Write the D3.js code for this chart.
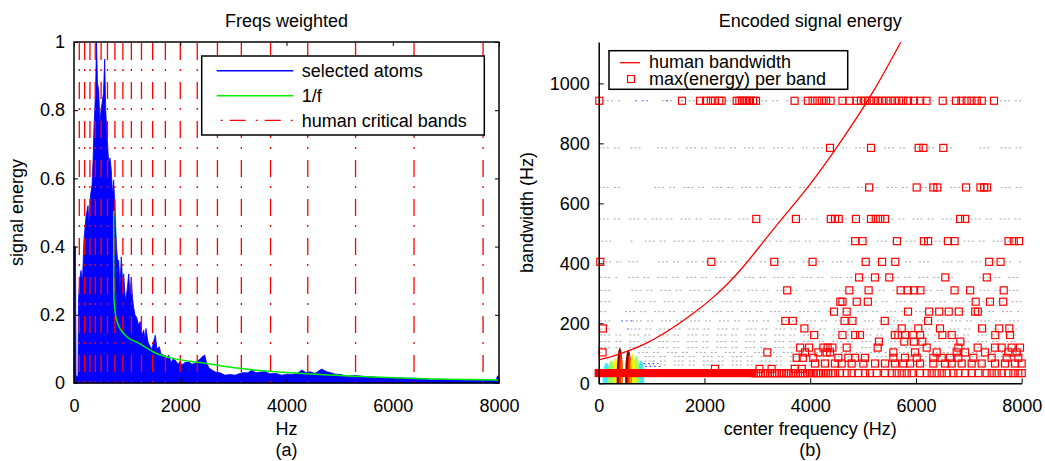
<!DOCTYPE html>
<html>
<head>
<meta charset="UTF-8">
<title>Freqs weighted / Encoded signal energy</title>
<style>
  body { margin: 0; background: #fff; }
  svg text { font-family: "Liberation Sans", Arial, Helvetica, sans-serif; fill: #000; }
</style>
</head>
<body>
<script src="https://cdnjs.cloudflare.com/ajax/libs/d3/7.8.5/d3.min.js"></script>
<svg id="fig" width="1045" height="461"></svg>
<script>
// ---------- panel (a) data ----------
var xTicksA = [0, 2000, 4000, 6000, 8000];
var yTicksA = [0, 0.2, 0.4, 0.6, 0.8, 1];
var yLabelsA = ["0", "0.2", "0.4", "0.6", "0.8", "1"];

// critical band edges (Hz)
var critBands = [100, 200, 300, 400, 510, 630, 770, 920, 1080, 1270, 1480, 1720,
                 2000, 2320, 2700, 3150, 3700, 4400, 5300, 6400, 7700];

// envelope of the selected atoms spectrum, [Hz, energy]
var spectrum = [[0,0.40],[28,0.40],[38,0.02],[75,0.02],[85,0.25],[113,0.31],[132,0.33],[160,0.30],
  [188,0.42],[226,0.49],[264,0.52],[282,0.47],[311,0.55],[339,0.58],[358,0.65],[376,0.75],[405,0.85],
  [424,1.0],[442,0.88],[465,0.86],[489,0.76],[508,0.80],[527,0.82],[555,0.85],[578,0.95],[597,0.80],
  [621,0.73],[653,0.645],[678,0.66],[702,0.625],[725,0.55],[747,0.595],[777,0.487],[800,0.40],
  [819,0.36],[841,0.36],[866,0.28],[890,0.37],[913,0.30],[936,0.32],[966,0.243],[998,0.27],
  [1030,0.32],[1054,0.26],[1079,0.31],[1101,0.25],[1124,0.22],[1148,0.20],[1186,0.19],[1214,0.17],
  [1248,0.18],[1280,0.14],[1312,0.155],[1336,0.13],[1355,0.16],[1393,0.12],[1436,0.106],[1468,0.10],
  [1497,0.12],[1530,0.14],[1562,0.10],[1606,0.106],[1638,0.085],[1689,0.082],[1732,0.07],[1783,0.082],
  [1826,0.06],[1864,0.07],[1907,0.067],[1958,0.055],[1995,0.062],[2033,0.053],[2089,0.06],[2159,0.062],
  [2221,0.055],[2283,0.058],[2340,0.067],[2372,0.07],[2409,0.076],[2460,0.082],[2498,0.058],[2541,0.044],
  [2598,0.038],[2660,0.032],[2748,0.03],[2842,0.023],[2936,0.025],[3031,0.023],[3162,0.03],[3275,0.03],
  [3345,0.038],[3426,0.03],[3501,0.032],[3595,0.033],[3689,0.027],[3802,0.028],[3910,0.023],[4009,0.026],
  [4104,0.025],[4198,0.028],[4292,0.038],[4367,0.03],[4442,0.033],[4536,0.028],[4663,0.041],[4757,0.033],
  [4838,0.03],[4913,0.026],[5007,0.025],[5158,0.02],[5289,0.022],[5478,0.019],[5628,0.018],[5792,0.015],
  [5948,0.016],[6099,0.015],[6268,0.014],[6419,0.014],[6569,0.012],[6733,0.009],[6889,0.011],[7046,0.009],
  [7209,0.01],[7360,0.007],[7511,0.008],[7675,0.007],[7831,0.008],[7944,0.007],[7972,0.021],[8000,0.015]];

// the 1/f reference curve, [Hz, energy]
var invF = [[747,0.505],[748,0.30],[752,0.25],[778,0.204],[820,0.175],[904,0.151],[1000,0.135],
  [1218,0.117],[1530,0.088],[1845,0.073],[2472,0.058],[2786,0.050],[3281,0.040],[4536,0.026],
  [5792,0.017],[7046,0.011],[8000,0.009]];

// ---------- panel (b) data ----------
var xTicksB = [0, 2000, 4000, 6000, 8000];
var yTicksB = [0, 200, 400, 600, 800, 1000];

// human critical bandwidth, [center Hz, bandwidth Hz]
var humanBw = [[0,78],[308,92],[560,108],[876,130],[1191,161],[1506,197],[1821,237],[2137,281],
  [2452,333],[2767,394],[3051,458],[3397,535],[3964,652],[4501,785],[5163,958],[5711,1137]];

// dictionary atoms (grey dots): bandwidth of each row and the frequency spans it covers
var atomRowBw = [942, 785, 653, 548, 474, 405, 353, 310, 272, 239, 208, 181, 161, 139, 119, 103, 89, 74, 61];
var atomRuns = [
  [[80,400],[1200,1400],[1700,1900],[2330,2580],[3000,3650],[3750,8000]],
  [[0,420],[600,850],[1100,3950],[4050,4700],[4850,6700],[7200,7400],[7600,8000]],
  [[0,400],[1050,5350],[5450,6000],[6100,7450],[7600,8000]],
  [[0,400],[580,900],[1000,8000]],
  [[50,310],[600,640],[870,8000]],
  [[50,430],[560,820],[1120,6300],[6500,7300],[7400,8000]],
  [[30,370],[560,6700],[7200,8000]],
  [[30,310],[620,8000]],
  [[30,290],[680,8000]],
  [[30,180],[500,8000]],
  [[30,240],[630,8000]],
  [[30,240],[600,8000]],
  [[30,8000]],
  [[30,8000]],
  [[30,8000]],
  [[30,60],[740,8000]],
  [[870,8000]],
  [[870,8000]],
  [[870,8000]]
];
// low-energy atoms drawn in blue
var blueRowBw = [942, 208, 181, 66, 56, 44];
var blueRuns = [
  [[0,60],[690,760],[820,930],[1270,1300],[1560,1590]],
  [[430,630]],
  [[540,600]],
  [[850,1150]],
  [[880,1200]],
  [[900,1250]]
];

// high-energy atoms around 200-900 Hz: [center Hz, half width Hz, top bandwidth, colour]
var blobs = [
  [150, 75, 68, "#40e8ff"], [800, 60, 75, "#40e8ff"],
  [240, 70, 76, "#a0ff60"], [710, 65, 92, "#a0ff60"],
  [320, 45, 85, "#ffee00"], [640, 50, 100, "#ffee00"],
  [400, 60, 118, "#900000"], [560, 60, 112, "#900000"],
  [420, 35, 100, "#ff3000"], [580, 35, 95, "#ff3000"],
  [440, 15, 80, "#ffa000"], [600, 15, 80, "#ffa000"]
];

// max(energy) per band: bandwidth of each row and the center frequencies of the squares
var peakRowBw = [942, 785, 653, 548, 474, 405, 353, 310, 272, 239, 208, 183, 161, 139, 119, 103, 85, 66, 48, 34];
var peakFreqs = [
  [12,1576,1916,2030,2120,2200,2281,2326,2610,2660,2710,2760,2810,2860,2920,2975,3705,3955,4045,4135,4220,
   4300,4385,4610,4740,4880,4960,5040,5120,5200,5280,5360,5440,5520,5600,5680,5760,5850,5960,6080,6200,
   6506,6757,6860,6960,7050,7150,7244,7476],
  [4375,5150,6052,6140,6518],
  [5115,6014,6329,6404,6947,7220,7290,7345],
  [2980,3730,4390,4470,4540,4865,5150,5240,5325,5415,6835,6930],
  [4850,4990,5640,6150,6230,6605,6730,7750,7850,7950],
  [30,2130,3320,4045,5050,5360,5610,7385,7600],
  [4925,5225,5495,6555,7340],
  [3565,4740,5105,5710,5845,5965,6085,6730,7025,7660],
  [4570,4610,4880,5090,7130,7400,7650],
  [4450,4690,5850,6250,6440,6620,6810,7120,7170],
  [3530,3670,4650,4800,5410,6230],
  [80,3890,5730,6045,6455,7250,7575,7766],
  [4075,4610,4850,4942,5600,5667,5793,5951,6077,6500,6676,7500,7779],
  [5300,5780,5960,6120,6840],
  [3810,3980,4250,4330,4420,4690,5276,6203,6802,7167,7495,7621,7810,7968],
  [72,3190,3902,4154,4311,4375,5573,5982,6392,6770,6928,7306,7747,7905],
  [3744,3860,4059,4532,4721,4847,5036,5573,5793,6014,6329,6487,6644,6802,7085,7432,7716,7936],
  [4091,4280,4469,4595,4784,5005,5226,5415,5604,5762,5888,6077,6329,6550,6676,6865,7054,7243,7495,
   7684,7873,7999],
  [2200,3040,3270,3710,3840],
  [2930,2975,3020,3065,3110,3150,3195,3240,3280,3330,3370,3415,3460,3500,3550,3590,3640,3680,3725,
   3770,3810,3860,3900,3950,4000,4060,4110,4154,4200,4248,4300,4343,4400,4469,4564,4690,4784,4910,
   5036,5131,5257,5415,5541,5636,5730,5825,5919,6077,6203,6297,6392,6487,6581,6707,6802,6928,7054,
   7180,7337,7432,7526,7621,7747,7842,7936,8000]
];
// stretch of the lowest row where the squares merge into a solid bar
var solidRun = [0, 2900];
var solidBw = 34;

// ---------- drawing ----------
var svg = d3.select("#fig");
var FONT = 18;

var xA = d3.scaleLinear().domain([0, 8000]).range([74, 499]);
var yA = d3.scaleLinear().domain([0, 1]).range([383, 42]);
var xB = d3.scaleLinear().domain([0, 8000]).range([598.7, 1021.7]);
var yB = d3.scaleLinear().domain([0, 1138]).range([383.3, 42]);

function styleAxis(g) {
  g.attr("font-size", FONT).attr("font-family", "Liberation Sans, Arial, sans-serif");
  g.selectAll(".tick line").attr("stroke", "#000").attr("stroke-width", 1);
  g.selectAll("text").attr("fill", "#000");
}

// ----- panel (a) -----
var ga = svg.append("g");

ga.append("path")
  .datum(spectrum)
  .attr("d", d3.area().x(function (d) { return xA(d[0]); }).y0(yA(0)).y1(function (d) { return yA(d[1]); }))
  .attr("fill", "#0000ff")
  .attr("stroke", "#0000ff")
  .attr("stroke-width", 0.8);

ga.selectAll(".cband")
  .data(critBands)
  .join("line")
  .attr("class", "cband")
  .attr("x1", function (d) { return xA(d); })
  .attr("x2", function (d) { return xA(d); })
  .attr("y1", yA(0))
  .attr("y2", yA(1))
  .attr("stroke", "#ff0000")
  .attr("stroke-width", 1.3)
  .attr("stroke-dasharray", "2,9,17,11");

ga.append("path")
  .datum(invF)
  .attr("d", d3.line().x(function (d) { return xA(d[0]); }).y(function (d) { return yA(d[1]); }).curve(d3.curveMonotoneX))
  .attr("fill", "none")
  .attr("stroke", "#00ee00")
  .attr("stroke-width", 1.5);

// box and inward ticks
ga.append("rect")
  .attr("x", xA(0)).attr("y", yA(1))
  .attr("width", xA(8000) - xA(0)).attr("height", yA(0) - yA(1))
  .attr("fill", "none").attr("stroke", "#000").attr("stroke-width", 1.5);

ga.append("g").attr("transform", "translate(0," + yA(0) + ")")
  .call(d3.axisBottom(xA).tickValues(xTicksA).tickFormat(d3.format("d")).tickSizeInner(-4).tickSizeOuter(0).tickPadding(16))
  .call(styleAxis).call(function (g) { g.select(".domain").remove(); });
ga.append("g").attr("transform", "translate(0," + yA(1) + ")")
  .call(d3.axisTop(xA).tickValues(xTicksA).tickFormat("").tickSizeInner(-4).tickSizeOuter(0))
  .call(styleAxis).call(function (g) { g.select(".domain").remove(); });
ga.append("g").attr("transform", "translate(" + xA(0) + ",0)")
  .call(d3.axisLeft(yA).tickValues(yTicksA).tickFormat(function (d, i) { return yLabelsA[i]; }).tickSizeInner(-4).tickSizeOuter(0).tickPadding(9))
  .call(styleAxis).call(function (g) { g.select(".domain").remove(); });
ga.append("g").attr("transform", "translate(" + xA(8000) + ",0)")
  .call(d3.axisRight(yA).tickValues(yTicksA).tickFormat("").tickSizeInner(-4).tickSizeOuter(0))
  .call(styleAxis).call(function (g) { g.select(".domain").remove(); });

ga.append("text").attr("x", 286.5).attr("y", 27).attr("text-anchor", "middle").attr("font-size", FONT).text("Freqs weighted");
ga.append("text").attr("x", 286.5).attr("y", 435).attr("text-anchor", "middle").attr("font-size", FONT).text("Hz");
ga.append("text").attr("x", 286.5).attr("y", 456).attr("text-anchor", "middle").attr("font-size", FONT).text("(a)");
ga.append("text").attr("transform", "translate(22.5,212.5) rotate(-90)").attr("text-anchor", "middle").attr("font-size", FONT).text("signal energy");

// legend (a)
var la = ga.append("g");
la.append("rect").attr("x", 201.7).attr("y", 56).attr("width", 282.6).attr("height", 79)
  .attr("fill", "#fff").attr("stroke", "#000").attr("stroke-width", 1.5);
var legA = [
  { label: "selected atoms", color: "#0000ff", dash: null, y: 70.7 },
  { label: "1/f", color: "#00ee00", dash: null, y: 95.7 },
  { label: "human critical bands", color: "#ff0000", dash: "2,7,16,10", y: 120.3 }
];
legA.forEach(function (d) {
  la.append("line")
    .attr("x1", d.dash ? 220.7 : 216.7).attr("x2", 293.3).attr("y1", d.y).attr("y2", d.y)
    .attr("stroke", d.color).attr("stroke-width", d.dash ? 1.3 : 1.5)
    .attr("stroke-dasharray", d.dash);
  la.append("text").attr("x", 301.7).attr("y", d.y + 6.3).attr("font-size", FONT).text(d.label);
});

// ----- panel (b) -----
var gb = svg.append("g");
svg.append("defs").append("clipPath").attr("id", "clipB")
  .append("rect").attr("x", xB(0)).attr("y", yB(1138)).attr("width", xB(8000) - xB(0)).attr("height", yB(0) - yB(1138));

// grey dictionary atoms
atomRowBw.forEach(function (bw, i) {
  gb.selectAll(null)
    .data(atomRuns[i])
    .join("line")
    .attr("x1", function (d) { return xB(d[0]); })
    .attr("x2", function (d) { return xB(d[1]); })
    .attr("y1", yB(bw)).attr("y2", yB(bw))
    .attr("stroke", "#8a8a8a").attr("stroke-opacity", 0.75).attr("stroke-width", 1)
    .attr("stroke-dasharray", "2,2,2,2,2,5,2,2,2,8");
});
blueRowBw.forEach(function (bw, i) {
  gb.selectAll(null)
    .data(blueRuns[i])
    .join("line")
    .attr("x1", function (d) { return xB(d[0]); })
    .attr("x2", function (d) { return xB(d[1]); })
    .attr("y1", yB(bw)).attr("y2", yB(bw))
    .attr("stroke", "#2040ff").attr("stroke-width", 1)
    .attr("stroke-dasharray", "1.5,3");
});

// energetic atoms as coloured ellipses
gb.append("g").attr("clip-path", "url(#clipB)")
  .selectAll("ellipse")
  .data(blobs)
  .join("ellipse")
  .attr("cx", function (d) { return xB(d[0]); })
  .attr("cy", yB(15))
  .attr("rx", function (d) { return xB(d[1]) - xB(0); })
  .attr("ry", function (d) { return yB(15) - yB(d[2]); })
  .attr("fill", function (d) { return d[3]; });

// max(energy) per band squares
var SQ = 7;
gb.append("rect")
  .attr("x", xB(solidRun[0]) - SQ / 2 - 0.6).attr("y", yB(solidBw) - SQ / 2 - 0.6)
  .attr("width", xB(solidRun[1]) - xB(solidRun[0]) + SQ + 1.2).attr("height", SQ + 1.2)
  .attr("fill", "#ff0000");
peakRowBw.forEach(function (bw, i) {
  gb.selectAll(null)
    .data(peakFreqs[i])
    .join("rect")
    .attr("x", function (d) { return xB(d) - SQ / 2; })
    .attr("y", yB(bw) - SQ / 2)
    .attr("width", SQ).attr("height", SQ)
    .attr("fill", "none").attr("stroke", "#ff0000").attr("stroke-width", 1.2);
});

// human bandwidth curve
gb.append("path")
  .datum(humanBw)
  .attr("clip-path", "url(#clipB)")
  .attr("d", d3.line().x(function (d) { return xB(d[0]); }).y(function (d) { return yB(d[1]); }).curve(d3.curveBasis))
  .attr("fill", "none").attr("stroke", "#ff0000").attr("stroke-width", 1.3);

// axes (left and bottom only)
gb.append("g").attr("transform", "translate(0," + yB(0) + ")")
  .call(d3.axisBottom(xB).tickValues(xTicksB).tickFormat(d3.format("d")).tickSizeInner(-5).tickSizeOuter(0).tickPadding(16))
  .call(styleAxis).call(function (g) { g.select(".domain").attr("stroke", "#000").attr("stroke-width", 1.5); });
gb.append("g").attr("transform", "translate(" + xB(0) + ",0)")
  .call(d3.axisLeft(yB).tickValues(yTicksB).tickFormat(d3.format("d")).tickSizeInner(-5).tickSizeOuter(0).tickPadding(9))
  .call(styleAxis).call(function (g) { g.select(".domain").attr("stroke", "#000").attr("stroke-width", 1.5); });

gb.append("text").attr("x", 810.2).attr("y", 27).attr("text-anchor", "middle").attr("font-size", FONT).text("Encoded signal energy");
gb.append("text").attr("x", 810.2).attr("y", 435).attr("text-anchor", "middle").attr("font-size", FONT).text("center frequency (Hz)");
gb.append("text").attr("x", 810.2).attr("y", 456).attr("text-anchor", "middle").attr("font-size", FONT).text("(b)");
gb.append("text").attr("transform", "translate(533,212.5) rotate(-90)").attr("text-anchor", "middle").attr("font-size", FONT).text("bandwidth (Hz)");

// legend (b)
var lb = gb.append("g");
lb.append("rect").attr("x", 609).attr("y", 50.7).attr("width", 238.7).attr("height", 38.6)
  .attr("fill", "#fff").attr("stroke", "#000").attr("stroke-width", 1.5);
lb.append("line").attr("x1", 620).attr("x2", 640).attr("y1", 62.7).attr("y2", 62.7)
  .attr("stroke", "#ff0000").attr("stroke-width", 1.3);
lb.append("text").attr("x", 649).attr("y", 67.5).attr("font-size", FONT).text("human bandwidth");
lb.append("rect").attr("x", 631 - SQ / 2).attr("y", 79 - SQ / 2).attr("width", SQ).attr("height", SQ)
  .attr("fill", "none").attr("stroke", "#ff0000").attr("stroke-width", 1.2);
lb.append("text").attr("x", 649).attr("y", 84.5).attr("font-size", FONT).text("max(energy) per band");
</script>
</body>
</html>
